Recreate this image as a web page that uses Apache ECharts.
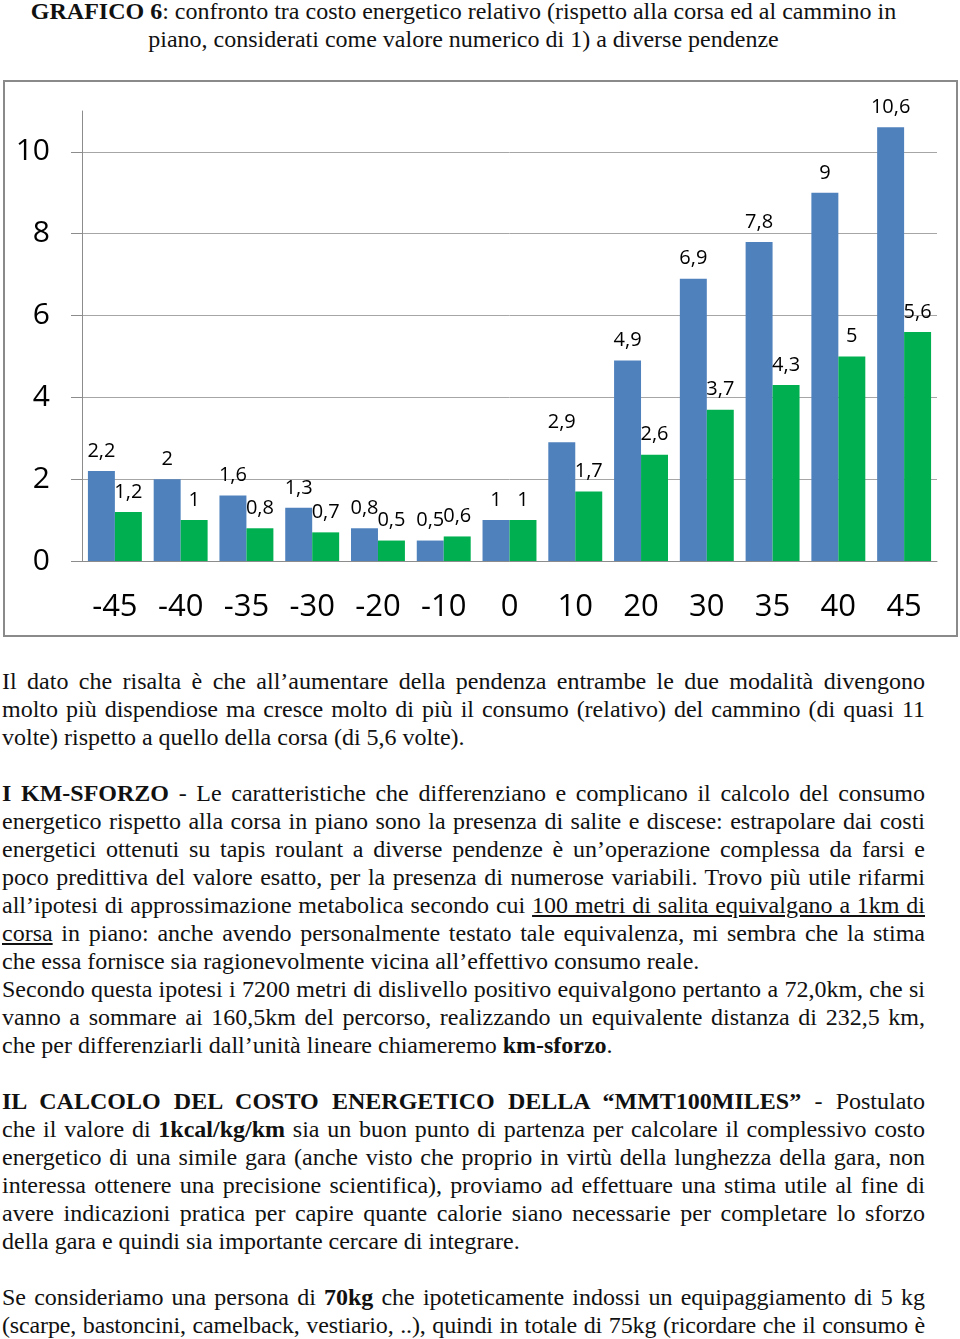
<!DOCTYPE html>
<html>
<head>
<meta charset="utf-8">
<script src="https://cdn.jsdelivr.net/npm/echarts@6/dist/echarts.min.js"></script>
<style>
  body { margin: 0; background: #fff; width: 960px; height: 1339px; overflow: hidden; position: relative; }
  .testo { position: absolute; left: 2px; width: 923px; font-family: "Liberation Serif", serif; font-size: 24px; line-height: 28px; color: #111; }
  .testo div { white-space: nowrap; }
  .j { text-align: justify; text-align-last: justify; }
  .c { text-align: center; }
  .stretto { letter-spacing: -0.15px; }
  .vuota { height: 28px; }
  #grafico { position: absolute; left: 3px; top: 80px; width: 955px; height: 557px; box-sizing: border-box; border: 2px solid #8a8a8a; }
</style>
</head>
<body>

<div class="testo" style="top:-3px">
  <div class="c"><b>GRAFICO 6</b>: confronto tra costo energetico relativo (rispetto alla corsa ed al cammino in</div>
  <div class="c">piano, considerati come valore numerico di 1) a diverse pendenze</div>
</div>

<div id="grafico"></div>

<div class="testo" style="top:667px">
  <div class="j">Il dato che risalta è che all’aumentare della pendenza entrambe le due modalità divengono</div>
  <div class="j">molto più dispendiose ma cresce molto di più il consumo (relativo) del cammino (di quasi 11</div>
  <div>volte) rispetto a quello della corsa (di 5,6 volte).</div>
  <div class="vuota"></div>
  <div class="j"><b>I KM-SFORZO</b> - Le caratteristiche che differenziano e complicano il calcolo del consumo</div>
  <div class="j">energetico rispetto alla corsa in piano sono la presenza di salite e discese: estrapolare dai costi</div>
  <div class="j">energetici ottenuti su tapis roulant a diverse pendenze è un’operazione complessa da farsi e</div>
  <div class="j">poco predittiva del valore esatto, per la presenza di numerose variabili. Trovo più utile rifarmi</div>
  <div class="j">all’ipotesi di approssimazione metabolica secondo cui <u>100 metri di salita equivalgano a 1km di</u></div>
  <div class="j"><u>corsa</u> in piano: anche avendo personalmente testato tale equivalenza, mi sembra che la stima</div>
  <div>che essa fornisce sia ragionevolmente vicina all’effettivo consumo reale.</div>
  <div class="j">Secondo questa ipotesi i 7200 metri di dislivello positivo equivalgono pertanto a 72,0km, che si</div>
  <div class="j">vanno a sommare ai 160,5km del percorso, realizzando un equivalente distanza di 232,5 km,</div>
  <div>che per differenziarli dall’unità lineare chiameremo <b>km-sforzo</b>.</div>
  <div class="vuota"></div>
  <div class="j"><b>IL CALCOLO DEL COSTO ENERGETICO DELLA “MMT100MILES”</b> - Postulato</div>
  <div class="j">che il valore di <b>1kcal/kg/km</b> sia un buon punto di partenza per calcolare il complessivo costo</div>
  <div class="j">energetico di una simile gara (anche visto che proprio in virtù della lunghezza della gara, non</div>
  <div class="j">interessa ottenere una precisione scientifica), proviamo ad effettuare una stima utile al fine di</div>
  <div class="j">avere indicazioni pratica per capire quante calorie siano necessarie per completare lo sforzo</div>
  <div>della gara e quindi sia importante cercare di integrare.</div>
  <div class="vuota"></div>
  <div class="j">Se consideriamo una persona di <b>70kg</b> che ipoteticamente indossi un equipaggiamento di 5 kg</div>
  <div class="j stretto">(scarpe, bastoncini, camelback, vestiario, ..), quindi in totale di 75kg (ricordare che il consumo è</div>
</div>

<script>
// pendenze (%) e costo energetico relativo
var pendenze = ['-45', '-40', '-35', '-30', '-20', '-10', '0', '10', '20', '30', '35', '40', '45'];
var cammino = [2.2, 2, 1.6, 1.3, 0.8, 0.5, 1, 2.9, 4.9, 6.9, 7.8, 9, 10.6];
var corsa = [1.2, 1, 0.8, 0.7, 0.5, 0.6, 1, 1.7, 2.6, 3.7, 4.3, 5, 5.6];

var grigio = '#8c8c8c';

// etichette con la virgola decimale
function virgola(p) {
  return String(p.value).replace('.', ',');
}

var etichetta = {
  show: true,
  position: 'top',
  distance: 10,
  color: '#000',
  fontFamily: 'Open Sans',
  fontSize: 20,
  formatter: virgola
};

var myChart = echarts.init(document.getElementById('grafico'));

var option = {
  animation: false,
  grid: { left: 77, right: 19, top: 29, bottom: 74 },
  xAxis: {
    type: 'category',
    data: pendenze,
    axisLine: { lineStyle: { color: grigio, width: 1 } },
    axisTick: { length: 12, lineStyle: { color: grigio } },
    axisLabel: { color: '#000', fontFamily: 'Open Sans', fontSize: 31, margin: 31 }
  },
  yAxis: {
    type: 'value',
    min: 0,
    max: 11,
    interval: 2,
    axisLine: { show: true, lineStyle: { color: grigio, width: 1 } },
    axisTick: { show: true, length: 11, lineStyle: { color: grigio } },
    axisLabel: { color: '#000', fontFamily: 'Open Sans', fontSize: 30, margin: 32, showMaxLabel: false },
    splitLine: { show: true, showMaxLine: false, lineStyle: { color: '#a6a6a6', width: 1 } }
  },
  series: [
    {
      name: 'cammino',
      type: 'bar',
      data: cammino,
      barGap: '0%',
      barCategoryGap: '18%',
      itemStyle: { color: '#4f81bd' },
      label: etichetta
    },
    {
      name: 'corsa',
      type: 'bar',
      data: corsa,
      itemStyle: { color: '#00b050' },
      label: etichetta
    }
  ]
};

myChart.setOption(option);
</script>
</body>
</html>
